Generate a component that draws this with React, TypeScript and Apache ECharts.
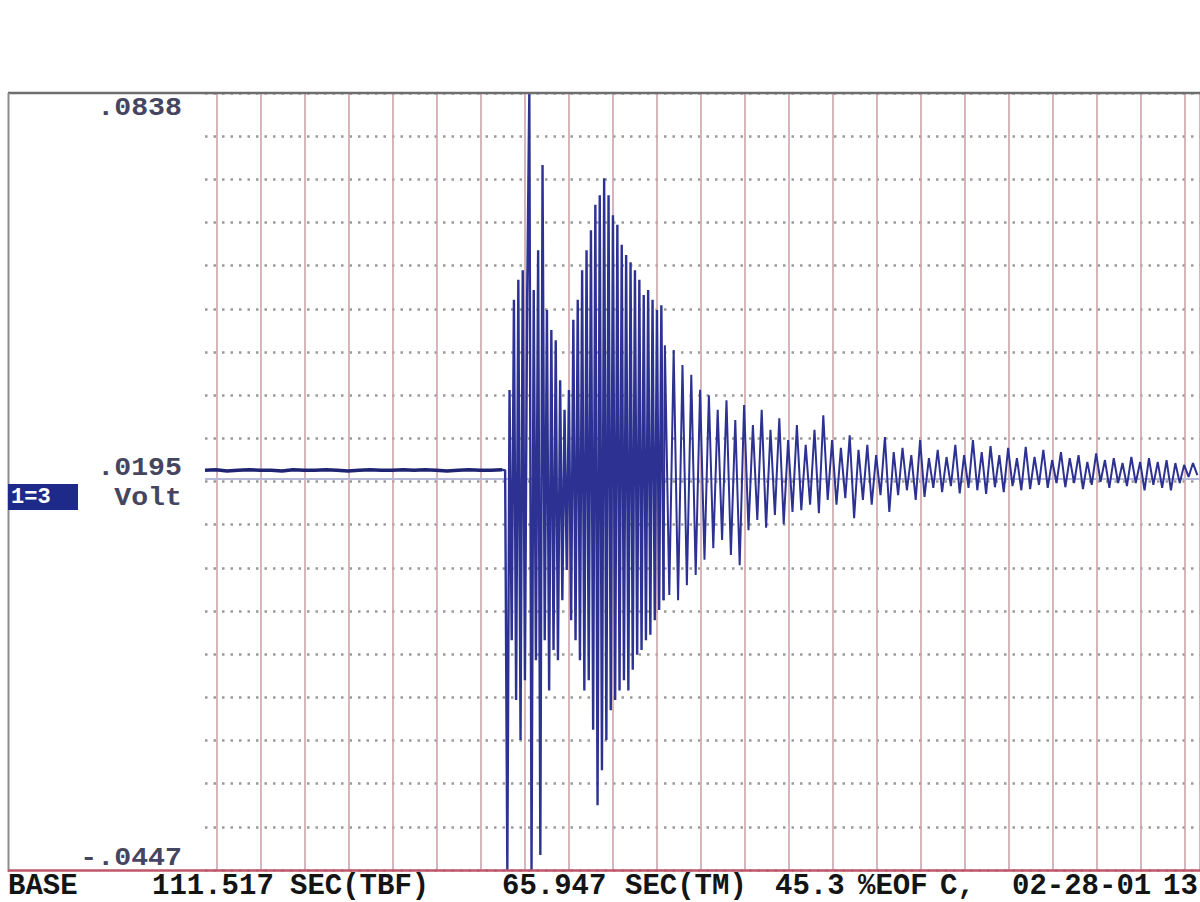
import React, { useEffect, useRef } from "react";
import * as echarts from "echarts";

// ---- axis range (volts) and labels ----
const yMin = -0.0447;
const yMax = 0.0838;
const yTickLabels = [".0838", ".0195", "-.0447"];
const unitLabel = "Volt";
const channelLabel = "1=3";
const footerTexts = ["BASE", "111.517", "SEC(TBF)", "65.947", "SEC(TM)", "45.3", "%EOF", "C,", "02-28-01", "13"];

// ---- time base (seconds) ----
const timeMax = 22.61;
const gridDivisions = 18;

// pre-event trace (quiet)
const preStart = 0;
const preStep = 0.25;
const preValues = [
  0.0214, 0.0215, 0.0213, 0.0214, 0.0215, 0.0214, 0.0214, 0.0213, 0.0215, 0.0214,
  0.0214, 0.0215, 0.0214, 0.0213, 0.0214, 0.0215, 0.0214, 0.0214, 0.0215, 0.0214,
  0.0215, 0.0214, 0.0213, 0.0214, 0.0215, 0.0214, 0.0214, 0.0215,
];

// main burst
const burstStart = 6.82;
const burstStep = 0.05;
const burstValues = [
  0.0214, -0.0447, 0.0347, -0.0067, 0.0496, -0.0166, 0.0529, -0.0232, 0.0545, -0.0133,
  0.0496, 0.0838, -0.0447, 0.0512, -0.0100, 0.0578, -0.0422, 0.0719, -0.0067, 0.0479,
  -0.0150, 0.0446, -0.0083, 0.0429, -0.0100, 0.0363, -0.0001, 0.0314, 0.0049, 0.0347,
  -0.0034, 0.0463, -0.0067, 0.0496, -0.0100, 0.0545, -0.0150, 0.0578, -0.0133, 0.0611,
  -0.0215, 0.0653, -0.0340, 0.0669, -0.0282, 0.0697, -0.0232, 0.0669, -0.0183, 0.0636,
  -0.0166, 0.0620, -0.0150, 0.0587, -0.0133, 0.0570, -0.0150, 0.0558, -0.0116, 0.0545,
  -0.0091, 0.0529, -0.0083, 0.0504, -0.0067, 0.0512, -0.0058, 0.0496, -0.0034, 0.0479,
  -0.0017, 0.0487, -0.0001,
];

// decaying coda
const codaStart = 10.45;
const codaStep = 0.1;
const codaValues = [
  0.0421, 0.0008, 0.0413, -0.0001, 0.0388, 0.0024, 0.0372, 0.0041, 0.0347, 0.0066,
  0.0338, 0.0085, 0.0314, 0.0099, 0.0330, 0.0074, 0.0297, 0.0057, 0.0322, 0.0115,
  0.0289, 0.0132, 0.0314, 0.0119, 0.0281, 0.0140, 0.0300, 0.0125, 0.0264, 0.0145,
  0.0289, 0.0148, 0.0256, 0.0157, 0.0281, 0.0143, 0.0305, 0.0165, 0.0264, 0.0157,
  0.0251, 0.0168, 0.0272, 0.0135, 0.0248, 0.0165, 0.0256, 0.0157, 0.0239, 0.0173,
  0.0269, 0.0145, 0.0244, 0.0173, 0.0251, 0.0181, 0.0239, 0.0165, 0.0264, 0.0170,
  0.0234, 0.0185, 0.0248, 0.0178, 0.0236, 0.0188, 0.0256, 0.0176, 0.0239, 0.0185,
  0.0264, 0.0181, 0.0244, 0.0175, 0.0254, 0.0186, 0.0239, 0.0178, 0.0251, 0.0188,
  0.0234, 0.0181, 0.0253, 0.0183, 0.0236, 0.0190, 0.0248, 0.0185, 0.0231, 0.0193,
  0.0244, 0.0186, 0.0234, 0.0193, 0.0239, 0.0183, 0.0228, 0.0190, 0.0242, 0.0195,
  0.0231, 0.0185, 0.0234, 0.0193, 0.0226, 0.0188, 0.0236, 0.0193, 0.0228, 0.0181,
  0.0234, 0.0190, 0.0228, 0.0185, 0.0231, 0.0181, 0.0226, 0.0193, 0.0223, 0.0203,
  0.0226, 0.0206,
];

const toPairs = (t0: number, dt: number, vals: number[]) =>
  vals.map((v, i) => [+(t0 + i * dt).toFixed(3), v]);

export default function App() {
  const ref = useRef<HTMLDivElement>(null);

  useEffect(() => {
    if (!ref.current) return;
    const chart = echarts.init(ref.current, null, { renderer: "svg" });

    const preData = toPairs(preStart, preStep, preValues);
    const burstData = [preData[preData.length - 1], ...toPairs(burstStart, burstStep, burstValues)];
    const codaPairs = toPairs(codaStart, codaStep, codaValues);
    const codaData = [burstData[burstData.length - 1], ...codaPairs];
    const yMid = (yMin + yMax) / 2;

    const plotLeft = 205;
    const gridLeft2 = 217;
    const top = 93;
    const bottom = 32;
    const divPx = 44;

    const labelFont = 'bold 25px "Liberation Mono"';
    const labelFill = "#45455f";
    const footFont = 'bold 29px "Liberation Mono"';
    const footX = [8, 152, 290, 502, 625, 775, 858, 940, 1012, 1163];

    const graphic: any[] = [
      // frame
      { type: "line", z: 100, shape: { x1: 8, y1: 93, x2: 1200, y2: 93 }, style: { stroke: "#6e6e6e", lineWidth: 2.5 } },
      { type: "line", z: 100, shape: { x1: 8.5, y1: 93, x2: 8.5, y2: 872 }, style: { stroke: "#8c8c8c", lineWidth: 2 } },
      { type: "line", z: 100, shape: { x1: 8, y1: 870.5, x2: 1200, y2: 870.5 }, style: { stroke: "#c0566a", lineWidth: 2.5 } },
      // y labels
      { type: "text", z: 100, x: 182, y: 108, scaleX: 1.13, style: { text: yTickLabels[0], textAlign: "right", textVerticalAlign: "middle", font: labelFont, fill: labelFill } },
      { type: "text", z: 100, x: 182, y: 468, scaleX: 1.13, style: { text: yTickLabels[1], textAlign: "right", textVerticalAlign: "middle", font: labelFont, fill: labelFill } },
      { type: "text", z: 100, x: 182, y: 498, scaleX: 1.13, style: { text: unitLabel, textAlign: "right", textVerticalAlign: "middle", font: labelFont, fill: labelFill } },
      { type: "text", z: 100, x: 182, y: 858, scaleX: 1.13, style: { text: yTickLabels[2], textAlign: "right", textVerticalAlign: "middle", font: labelFont, fill: labelFill } },
      // channel box
      { type: "rect", z: 100, shape: { x: 8, y: 484, width: 70, height: 26 }, style: { fill: "#1d2a8a" } },
      { type: "text", z: 101, x: 11, y: 497, style: { text: channelLabel, textAlign: "left", textVerticalAlign: "middle", font: 'bold 22px "Liberation Mono"', fill: "#ffffff" } },
      // footer
      ...footerTexts.map((t, i) => ({
        type: "text",
        z: 100,
        x: footX[i],
        y: 886,
        style: { text: t, textAlign: "left", textVerticalAlign: "middle", font: footFont, fill: "#141414" },
      })),
    ];

    chart.setOption({
      animation: false,
      backgroundColor: "#ffffff",
      grid: [
        { left: plotLeft, right: 0, top, bottom },
        { left: plotLeft, right: 0, top, bottom },
        { left: gridLeft2, right: 0, top, bottom },
      ],
      xAxis: [
        { type: "value", gridIndex: 0, min: 0, max: timeMax, show: false },
        { type: "value", gridIndex: 1, min: 0, max: 1, show: false },
        {
          type: "value",
          gridIndex: 2,
          min: 0,
          max: (1200 - gridLeft2) / divPx,
          interval: 1,
          axisLine: { show: false },
          axisTick: { show: false },
          axisLabel: { show: false },
          splitLine: { show: true, lineStyle: { color: "#cba4ab", width: 1.6, type: "solid" } },
        },
      ],
      yAxis: [
        { type: "value", gridIndex: 0, min: yMin, max: yMax, show: false },
        {
          type: "value",
          gridIndex: 1,
          min: 0,
          max: gridDivisions,
          interval: 1,
          axisLine: { show: false },
          axisTick: { show: false },
          axisLabel: { show: false },
          splitLine: { show: true, lineStyle: { color: "#9a9a9a", width: 2.5, type: [2.5, 6] } },
        },
        { type: "value", gridIndex: 2, min: 0, max: 1, show: false },
      ],
      graphic,
      series: [
        {
          type: "line",
          xAxisIndex: 0,
          yAxisIndex: 0,
          data: preData,
          symbol: "none",
          lineStyle: { color: "#1f2472", width: 3.5 },
          silent: true,
          z: 5,
        },
        {
          type: "line",
          xAxisIndex: 0,
          yAxisIndex: 0,
          data: burstData,
          symbol: "none",
          lineStyle: { color: "#2d3292", width: 2.4 },
          silent: true,
          z: 5,
          markLine: {
            silent: true,
            symbol: ["none", "none"],
            label: { show: false },
            lineStyle: { color: "#b6b8d8", width: 2, type: "solid" },
            data: [{ yAxis: yMid }],
          },
        },
        {
          type: "line",
          xAxisIndex: 0,
          yAxisIndex: 0,
          data: codaData,
          symbol: "none",
          lineStyle: { color: "#2d3292", width: 2 },
          silent: true,
          z: 5,
        },
      ],
    });

    return () => chart.dispose();
  }, []);

  return (
    <div
      ref={ref}
      style={{ position: "absolute", left: 0, top: 0, width: 1200, height: 902, background: "#fff" }}
    />
  );
}
